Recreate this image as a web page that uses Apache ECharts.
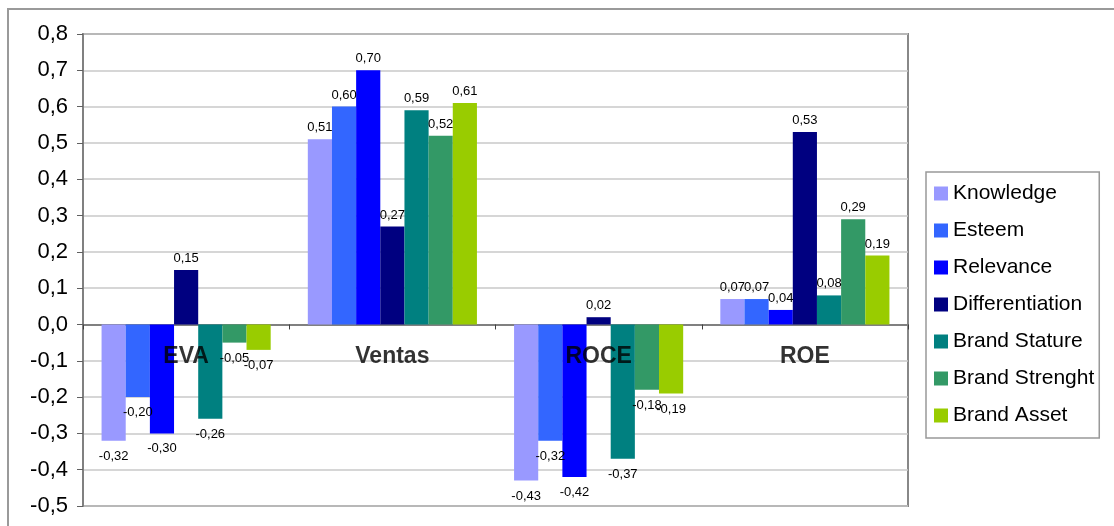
<!DOCTYPE html>
<html>
<head>
<meta charset="utf-8">
<style>
  html, body { margin: 0; padding: 0; background: #fff; }
  #chart { width: 1114px; height: 526px; }
</style>
<script src="https://cdn.jsdelivr.net/npm/echarts@6/dist/echarts.min.js"></script>
</head>
<body>
<div id="chart"></div>
<script>
// Indicators on the category axis
const categories = ['EVA', 'Ventas', 'ROCE', 'ROE'];

// Brand dimension series, one value per indicator
const seriesNames = ['Knowledge', 'Esteem', 'Relevance', 'Differentiation', 'Brand Stature', 'Brand Strenght', 'Brand Asset'];
const knowledge       = [-0.32, 0.51, -0.43, 0.07];
const esteem          = [-0.20, 0.60, -0.32, 0.07];
const relevance       = [-0.30, 0.70, -0.42, 0.04];
const differentiation = [ 0.15, 0.27,  0.02, 0.53];
const brandStature    = [-0.26, 0.59, -0.37, 0.08];
const brandStrenght   = [-0.05, 0.52, -0.18, 0.29];
const brandAsset      = [-0.07, 0.61, -0.19, 0.19];

const seriesValues = [knowledge, esteem, relevance, differentiation, brandStature, brandStrenght, brandAsset];
const seriesColors = ['#9999FF', '#3366FF', '#0000FF', '#000080', '#008080', '#339966', '#99CC00'];

// Value axis range
const yMin = -0.5;
const yMax = 0.8;
const yStep = 0.1;

const FONT = '"Liberation Sans", Arial, sans-serif';
const comma = (v, d) => v.toFixed(d).replace('.', ',');

const series = seriesNames.map((name, i) => ({
  name: name,
  type: 'bar',
  barGap: '0%',
  barCategoryGap: '18%',
  itemStyle: { color: seriesColors[i] },
  data: seriesValues[i].map(v => ({
    value: v,
    label: {
      show: true,
      position: v >= 0 ? 'top' : 'bottom',
      distance: v >= 0 ? 5 : 9,
      formatter: p => comma(p.value, 2),
      color: '#000',
      fontFamily: FONT,
      fontSize: 13
    }
  }))
}));

// Category names sit just under the zero line, drawn over the bars
series.push({
  name: 'categoryNames',
  type: 'scatter',
  symbolSize: 0,
  silent: true,
  z: 20,
  data: categories.map(c => ({ name: c, value: [c, 0] })),
  label: {
    show: true,
    position: 'inside',
    offset: [0, 32],
    formatter: p => p.name,
    fontFamily: FONT,
    fontSize: 23,
    fontWeight: 'bold',
    color: '#000'
  }
});

const chart = echarts.init(document.getElementById('chart'));
chart.setOption({
  animation: false,
  backgroundColor: '#fff',
  graphic: [{
    type: 'rect',
    shape: { x: 8, y: 9, width: 1200, height: 600 },
    style: { fill: 'none', stroke: '#9a9a9a', lineWidth: 2 },
    silent: true,
    z: -10
  }],
  grid: {
    left: 83, right: 206, top: 34, bottom: 20,
    outerBoundsMode: 'none',
    containLabel: false,
    show: true,
    borderColor: '#888',
    borderWidth: 2,
    backgroundColor: 'transparent'
  },
  legend: {
    orient: 'vertical',
    left: 926,
    top: 172,
    padding: [11, 5, 12, 8],
    itemGap: 16,
    itemWidth: 14,
    itemHeight: 14,
    icon: 'rect',
    borderColor: '#999',
    borderWidth: 1.5,
    backgroundColor: '#fff',
    textStyle: { fontFamily: FONT, fontSize: 21, color: '#000', lineHeight: 20 },
    data: seriesNames
  },
  xAxis: {
    type: 'category',
    data: categories,
    axisLine: { onZero: true, lineStyle: { color: '#808080', width: 2 } },
    axisTick: { show: true, length: 5, lineStyle: { color: '#404040', width: 1 } },
    axisLabel: { show: false },
    splitLine: { show: false }
  },
  yAxis: {
    type: 'value',
    min: yMin,
    max: yMax,
    interval: yStep,
    axisLine: { show: true, lineStyle: { color: '#808080', width: 2 } },
    axisTick: { show: true, length: 6, lineStyle: { color: '#606060', width: 1 } },
    axisLabel: {
      margin: 15,
      fontFamily: FONT,
      fontSize: 22,
      color: '#000',
      formatter: v => comma(v, 1)
    },
    splitLine: { show: true, lineStyle: { color: '#c8c8c8', width: 1.5 } }
  },
  series: series
});
</script>
</body>
</html>
